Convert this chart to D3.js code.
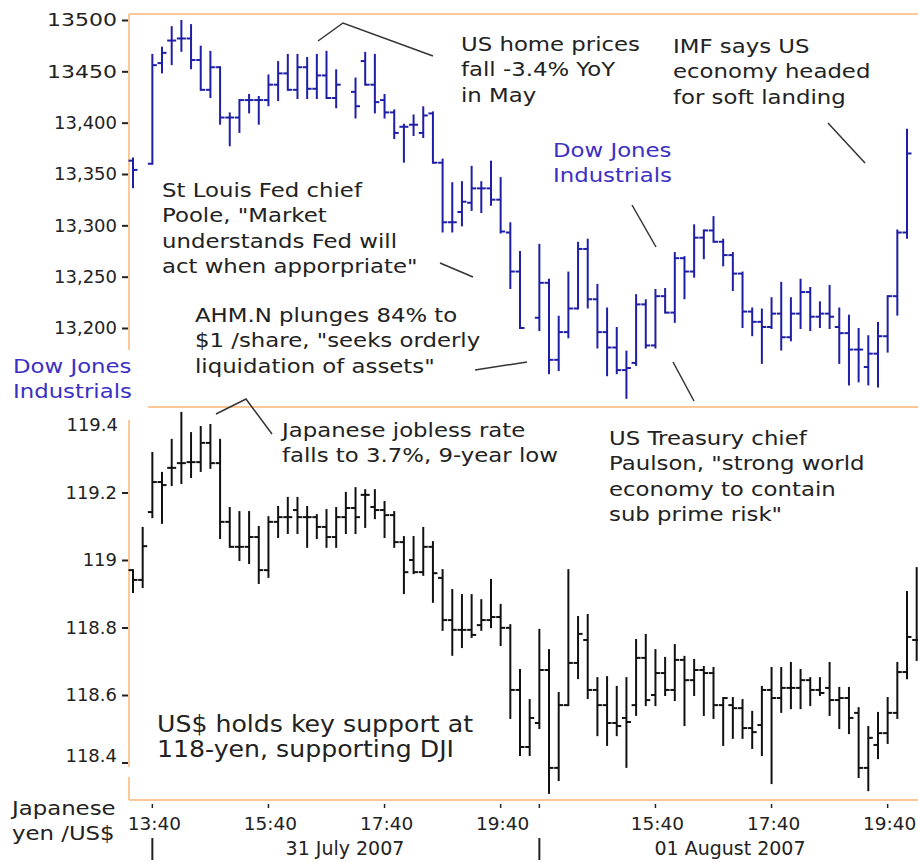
<!DOCTYPE html>
<html>
<head>
<meta charset="utf-8">
<script src="https://cdn.jsdelivr.net/npm/d3@7"></script>
<style>
  body { margin: 0; background: #fff; }
  svg { display: block; }
</style>
</head>
<body>
<svg width="918" height="863"></svg>
<script>
// ---- data ----
const timeLabels = ["13:40", "15:40", "17:40", "19:40", "15:40", "17:40", "19:40"];
const timeLabelBar = [2, 14, 26, 38, 54, 66, 78];
const dayLabels = ["31 July 2007", "01 August 2007"];
const dayStartBar = [2, 42];
const dowTicks = [13200, 13250, 13300, 13350, 13400, 13450, 13500];
const yenTicks = [118.4, 118.6, 118.8, 119, 119.2, 119.4];

// Dow Jones Industrials, 10-minute bars (null = no bar)
const dowOpen = [13363,null,13360,13458,13480,13482,13482,13461,13432,13454,13405,13405,13422,13422,13422,13437,13448,13432,13454,13433,
  13446,13424,null,13430,13460,13437,13422,13410,13396,13398,13390,13409,13361,13303,13313,13322,13336,13336,13325,13293,
  13255,null,13210,13244,13169,13196,13219,13277,13228,13196,13181,13159,13166,13223,13183,13231,13215,13268,13255,13288,
  13295,13284,13271,13253,13216,13206,13201,13214,13191,13214,13235,13211,13214,13201,13195,13179,13162,13175,13192,13231,13293];
const dowHigh = [13365,null,13466,13473,13493,13499,13495,13474,13469,13454,13409,13422,13427,13425,13446,13459,13466,13466,13463,13466,
  13469,13451,null,13443,13468,13466,13427,13412,13398,13407,13415,13410,13364,13341,13342,13357,13342,13362,13346,13302,
  13274,null,13281,13247,13211,13254,13283,13286,13242,13219,13200,13177,13232,13227,13237,13238,13273,13269,13300,13295,
  13308,13286,13273,13254,13219,13218,13229,13244,13229,13247,13239,13225,13241,13219,13212,13199,13192,13205,13231,13295,13393];
const dowLow = [13337,null,13360,13449,13457,13470,13453,13432,13425,13399,13378,13391,13410,13399,13417,13422,13432,13424,13424,13424,
  13424,13415,null,13405,13437,13410,13405,13385,13362,13388,13386,13361,13294,13294,13300,13315,13313,13320,13293,13239,
  13200,null,13198,13156,13159,13191,13219,13220,13181,13154,13156,13132,13164,13181,13181,13215,13206,13229,13250,13268,
  13284,13261,13237,13201,13193,13166,13200,13179,13188,13200,13198,13201,13200,13166,13145,13148,13145,13143,13177,13213,13288];
const dowClose = [13354,null,13456,13468,13480,13482,13461,13432,13454,13405,13405,13422,13422,13422,13437,13448,13432,13454,13433,13446,
  13424,13437,null,13416,13437,13420,13410,13390,13396,13398,13407,13361,13303,13303,13323,13336,13336,13325,13294,13255,
  13200,null,13244,13169,13196,13219,13277,13228,13196,13181,13159,13161,13223,13183,13231,13215,13268,13255,13288,13295,
  13284,13271,13253,13216,13206,13201,13214,13191,13214,13235,13211,13214,13211,13195,13179,13179,13175,13192,13231,13293,13370];

// Japanese yen per US$, 10-minute bars
const yenOpen = [118.970,118.941,119.142,119.231,119.273,119.287,119.290,119.290,119.347,119.287,119.113,119.039,119.039,119.068,118.970,119.113,119.127,119.148,119.127,119.127,
  119.098,119.068,119.127,119.154,119.193,119.157,119.148,119.133,119.053,119.000,118.964,119.039,118.947,118.822,118.793,118.793,118.807,118.822,118.831,118.799,
  118.615,118.446,118.517,118.674,118.384,118.570,118.695,118.763,118.615,118.570,118.517,118.532,118.570,118.710,118.600,118.665,118.615,118.704,118.644,118.674,
  118.665,118.570,118.570,118.561,118.502,118.511,118.615,118.591,118.621,118.621,118.644,118.615,118.621,118.585,118.591,118.547,118.384,118.452,118.487,118.547,118.668,118.763];
const yenHigh = [118.970,119.095,119.317,119.258,119.356,119.436,119.376,119.394,119.400,119.356,119.154,119.142,119.142,119.098,119.127,119.157,119.184,119.184,119.157,119.133,
  119.148,119.154,119.199,119.213,119.207,119.207,119.172,119.142,119.068,119.068,119.095,119.053,118.970,118.911,118.896,118.896,118.881,118.941,118.867,118.807,
  118.674,118.585,118.793,118.733,118.606,118.970,118.831,118.837,118.650,118.653,118.624,118.650,118.763,118.778,118.733,118.710,118.748,118.713,118.704,118.683,
  118.680,118.591,118.591,118.585,118.550,118.624,118.680,118.680,118.695,118.674,118.650,118.650,118.695,118.621,118.621,118.561,118.505,118.547,118.591,118.695,118.905,118.976];
const yenLow = [118.905,118.920,119.127,119.110,119.222,119.228,119.246,119.264,119.273,119.065,119.039,119.000,118.991,118.932,118.950,119.068,119.080,119.080,119.039,119.065,
  119.039,119.039,119.080,119.080,119.098,119.124,119.068,119.039,118.902,118.961,118.956,118.876,118.793,118.719,118.742,118.772,118.793,118.801,118.748,118.532,
  118.422,118.422,118.502,118.310,118.348,118.570,118.650,118.591,118.481,118.452,118.481,118.387,118.541,118.570,118.570,118.600,118.585,118.511,118.600,118.541,
  118.532,118.452,118.473,118.473,118.443,118.422,118.339,118.550,118.561,118.561,118.570,118.600,118.541,118.502,118.487,118.357,118.318,118.413,118.458,118.532,118.650,118.704];
const yenClose = [118.941,119.041,119.231,119.222,119.273,119.287,119.290,119.347,119.287,119.113,119.039,119.039,119.068,118.970,119.113,119.127,119.127,119.127,119.127,119.098,
  119.068,119.127,119.154,119.127,119.193,119.148,119.133,119.053,118.964,118.964,119.039,118.961,118.822,118.793,118.793,118.778,118.822,118.831,118.799,118.615,
  118.446,118.532,118.674,118.384,118.570,118.695,118.781,118.615,118.570,118.517,118.508,118.520,118.710,118.585,118.665,118.615,118.704,118.644,118.674,118.665,
  118.570,118.591,118.561,118.502,118.490,118.615,118.591,118.621,118.621,118.644,118.615,118.606,118.585,118.591,118.532,118.384,118.473,118.487,118.547,118.668,118.772,118.763];

// ---- chart ----
const svg = d3.select("svg");
const FONT = "DejaVu Sans, Verdana, sans-serif";
const frameColor = "#fcc898";
const dowColor = "#1e1ea6";
const yenColor = "#111";
const textColor = "#222";
const blueText = "#3b30c4";

const x = d3.scaleLinear().domain([0, 80]).range([133, 907]);
const yDow = d3.scaleLinear().domain([13200, 13500]).range([328, 20]);
const yYen = d3.scaleLinear().domain([118.4, 119.4]).range([762.5, 425]);

// frame lines
const frame = [
  [129, 14, 918, 14],
  [129, 14, 129, 350],
  [148, 407, 918, 407],
  [129, 420, 129, 767],
  [129, 777, 129, 800],
  [129, 800, 918, 800]
];
svg.selectAll("line.frame").data(frame).join("line")
   .attr("class", "frame")
   .attr("x1", d => d[0]).attr("y1", d => d[1])
   .attr("x2", d => d[2]).attr("y2", d => d[3])
   .attr("stroke", frameColor)
   .attr("stroke-width", 2);

// y axes
function styleAxis(g) {
  g.select(".domain").remove();
  g.selectAll(".tick line").attr("stroke", textColor).attr("stroke-width", 2);
  g.selectAll(".tick text")
   .attr("fill", textColor)
   .attr("font-size", "18px")
   .attr("font-family", FONT);
}

svg.append("g")
   .attr("transform", "translate(128,0)")
   .call(d3.axisLeft(yDow).tickValues(dowTicks).tickSize(6).tickPadding(5)
         .tickFormat(d => d >= 13450 ? String(d) : d3.format(",")(d)))
   .call(styleAxis)
   .call(g => g.selectAll(".tick text")
      .filter(d => d >= 13450)
      .attr("textLength", 70)
      .attr("lengthAdjust", "spacingAndGlyphs"));

svg.append("g")
   .attr("transform", "translate(128,0)")
   .call(d3.axisLeft(yYen).tickValues(yenTicks).tickSize(6).tickPadding(5)
         .tickFormat(d => String(d)))
   .call(styleAxis)
   .call(g => {
     g.selectAll(".tick").filter(d => d === 119.4).select("line").remove();
     g.selectAll(".tick").filter(d => d === 119.4).select("text").attr("x", -10);
     g.selectAll(".tick").filter(d => d === 118.4).select("text").attr("y", -7);
   });

// OHLC bars
function drawBars(cls, open, high, low, close, y, color) {
  const idx = d3.range(open.length).filter(i => open[i] !== null);
  const g = svg.append("g").attr("class", cls)
     .attr("stroke", color).attr("stroke-width", 2);
  g.selectAll("line.hl").data(idx).join("line")
   .attr("class", "hl")
   .attr("x1", i => x(i)).attr("x2", i => x(i))
   .attr("y1", i => y(high[i]) - 1).attr("y2", i => y(low[i]) + 1);
  g.selectAll("line.op").data(idx).join("line")
   .attr("class", "op")
   .attr("x1", i => x(i) - 4.5).attr("x2", i => x(i))
   .attr("y1", i => y(open[i])).attr("y2", i => y(open[i]));
  g.selectAll("line.cl").data(idx).join("line")
   .attr("class", "cl")
   .attr("x1", i => x(i)).attr("x2", i => x(i) + 4.5)
   .attr("y1", i => y(close[i])).attr("y2", i => y(close[i]));
}
drawBars("dow", dowOpen, dowHigh, dowLow, dowClose, yDow, dowColor);
drawBars("yen", yenOpen, yenHigh, yenLow, yenClose, yYen, yenColor);

// x axis: time labels, small ticks, day labels and day dividers
svg.selectAll("text.time").data(timeLabels).join("text")
   .attr("class", "time")
   .attr("x", (d, i) => x(timeLabelBar[i]) + 2)
   .attr("y", 830)
   .attr("text-anchor", "middle")
   .attr("font-size", "18.5px")
   .attr("font-family", FONT)
   .attr("fill", textColor)
   .text(d => d);

svg.selectAll("line.xtick").data(timeLabelBar.concat([42])).join("line")
   .attr("class", "xtick")
   .attr("x1", d => x(d)).attr("x2", d => x(d))
   .attr("y1", 804).attr("y2", 808)
   .attr("stroke", textColor).attr("stroke-width", 1.5);

svg.selectAll("line.daydiv").data(dayStartBar).join("line")
   .attr("class", "daydiv")
   .attr("x1", d => x(d)).attr("x2", d => x(d))
   .attr("y1", 838).attr("y2", 860)
   .attr("stroke", textColor).attr("stroke-width", 2);

svg.selectAll("text.day").data(dayLabels).join("text")
   .attr("class", "day")
   .attr("x", (d, i) => [345, 730][i])
   .attr("y", 855)
   .attr("text-anchor", "middle")
   .attr("font-size", "19px")
   .attr("font-family", FONT)
   .attr("fill", textColor)
   .text(d => d);

// annotations
const notes = [
  { lines: ["US home prices", "fall -3.4% YoY", "in May"], x: 461, y: 51 },
  { lines: ["IMF says US", "economy headed", "for soft landing"], x: 673, y: 53 },
  { lines: ["Dow Jones", "Industrials"], x: 553, y: 157, color: blueText },
  { lines: ["St Louis Fed chief", "Poole, \"Market", "understands Fed will", "act when apporpriate\""], x: 162, y: 197 },
  { lines: ["AHM.N plunges 84% to", "$1 /share, \"seeks orderly", "liquidation of assets\""], x: 195, y: 322 },
  { lines: ["Dow Jones", "Industrials"], x: 13, y: 373, color: blueText },
  { lines: ["Japanese jobless rate", "falls to 3.7%, 9-year low"], x: 282, y: 437 },
  { lines: ["US Treasury chief", "Paulson, \"strong world", "economy to contain", "sub prime risk\""], x: 609, y: 445 },
  { lines: ["US$ holds key support at", "118-yen, supporting DJI"], x: 157, y: 732, size: 22.5, sx: 1.12 },
  { lines: ["Japanese", "yen /US$"], x: 12, y: 815 }
];

notes.forEach(n => {
  const g = svg.append("g")
     .attr("transform", `translate(${n.x},${n.y}) scale(${n.sx || 1.17},1)`);
  g.selectAll("text").data(n.lines).join("text")
   .attr("x", 0)
   .attr("y", (d, i) => i * 25.4)
   .attr("font-size", (n.size || 19.5) + "px")
   .attr("font-family", FONT)
   .attr("fill", n.color || textColor)
   .text(d => d);
});

// leader lines
const leaders = [
  [[318, 41], [343, 23], [433, 56]],
  [[828, 123], [865, 163]],
  [[632, 205], [656, 247]],
  [[440, 263], [473, 277]],
  [[475, 370], [527, 362]],
  [[673, 362], [694, 401]],
  [[216, 414], [246, 399], [272, 434]]
];
svg.selectAll("polyline.leader").data(leaders).join("polyline")
   .attr("class", "leader")
   .attr("points", d => d.map(p => p.join(",")).join(" "))
   .attr("fill", "none")
   .attr("stroke", "#333")
   .attr("stroke-width", 1.5);
</script>
</body>
</html>
